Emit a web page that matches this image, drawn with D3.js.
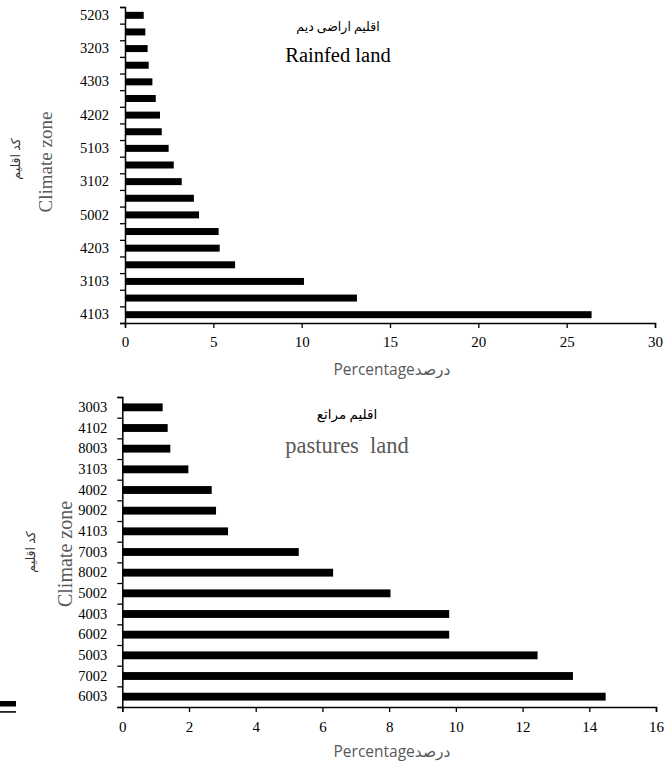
<!DOCTYPE html>
<html>
<head>
<meta charset="utf-8">
<script src="https://cdn.jsdelivr.net/npm/d3@7"></script>
<style>
  body { margin: 0; background: #fff; }
  svg text { font-family: 'Liberation Serif', 'DejaVu Sans', serif; }
</style>
</head>
<body>
<script>
// top chart: rainfed land, bars listed top to bottom, every other zone code is printed
const rainfedZones = ["5203", "", "3203", "", "4303", "", "4202", "", "5103", "",
                      "3102", "", "5002", "", "4203", "", "3103", "", "4103"];
const rainfedValues = [1.06, 1.15, 1.28, 1.34, 1.55, 1.74, 1.98, 2.08, 2.47, 2.76,
                       3.21, 3.90, 4.19, 5.30, 5.36, 6.23, 10.13, 13.13, 26.41];
const rainfedTicks = [0, 5, 10, 15, 20, 25, 30];

// bottom chart: pastures land
const pastureZones = ["3003", "4102", "8003", "3103", "4002", "9002", "4103", "7003",
                      "8002", "5002", "4003", "6002", "5003", "7002", "6003"];
const pastureValues = [1.21, 1.36, 1.44, 1.98, 2.68, 2.81, 3.17, 5.29,
                       6.32, 8.04, 9.80, 9.80, 12.45, 13.51, 14.49];
const pastureTicks = [0, 2, 4, 6, 8, 10, 12, 14, 16];

const svg = d3.select("body").append("svg")
    .attr("width", 672)
    .attr("height", 767);

function drawChart(cfg) {
    const n = cfg.values.length;
    const idx = d3.range(n);

    const x = d3.scaleLinear()
        .domain([0, d3.max(cfg.ticks)])
        .range([cfg.left, cfg.right]);

    const y = d3.scaleBand()
        .domain(idx)
        .range([cfg.top, cfg.bottom])
        .paddingInner(cfg.pad)
        .paddingOuter(cfg.pad / 2);

    // boundaries between categories, for the small tick marks
    const yEdge = d3.scaleLinear().domain([0, n]).range([cfg.top, cfg.bottom]);

    const g = svg.append("g");

    g.selectAll("rect.bar")
        .data(cfg.values)
        .join("rect")
        .attr("class", "bar")
        .attr("x", x(0))
        .attr("y", (d, i) => y(i))
        .attr("width", d => x(d) - x(0))
        .attr("height", y.bandwidth())
        .attr("fill", "#000");

    // y tick marks
    g.append("g")
        .attr("transform", `translate(${x(0)},0)`)
        .call(d3.axisLeft(yEdge).tickValues(d3.range(n + 1)).tickSize(5).tickFormat(""))
        .call(a => a.select(".domain").attr("stroke-width", 1.5))
        .call(a => a.selectAll(".tick line").attr("stroke-width", 1.3));

    // y labels
    g.append("g")
        .attr("transform", `translate(${x(0)},0)`)
        .call(d3.axisLeft(y).tickSize(0).tickPadding(cfg.labelPad).tickFormat(i => cfg.zones[i]))
        .call(a => a.select(".domain").remove())
        .call(a => a.selectAll("text")
            .attr("font-family", "'Liberation Serif', serif")
            .attr("font-size", 14.5)
            .attr("fill", "#000"));

    // x axis
    g.append("g")
        .attr("transform", `translate(0,${cfg.bottom})`)
        .call(d3.axisBottom(x).tickValues(cfg.ticks).tickSize(5).tickPadding(cfg.xPad).tickSizeOuter(5))
        .call(a => a.select(".domain").attr("stroke-width", 1.5))
        .call(a => a.selectAll(".tick line").attr("stroke-width", 1.3))
        .call(a => a.selectAll("text")
            .attr("font-family", "'Liberation Serif', serif")
            .attr("font-size", 15)
            .attr("fill", "#000"));

    // x axis title
    g.append("text")
        .attr("x", cfg.xTitle[0])
        .attr("y", cfg.xTitle[1])
        .attr("text-anchor", "middle")
        .style("font-family", "'Open Sans', 'DejaVu Sans', sans-serif")
        .attr("font-size", 15.5)
        .attr("fill", "#595959")
        .text("Percentageدرصد");

    // y axis titles
    g.append("text")
        .attr("transform", `translate(${cfg.yTitle[0]},${cfg.yTitle[1]}) rotate(-90)`)
        .attr("text-anchor", "middle")
        .attr("font-size", cfg.yTitleSize)
        .attr("fill", "#595959")
        .text("Climate zone");

    g.append("text")
        .attr("transform", `translate(${cfg.yTitleFa[0]},${cfg.yTitleFa[1]}) rotate(-90)`)
        .attr("text-anchor", "middle")
        .attr("font-size", 12.5)
        .attr("fill", "#333")
        .text("کد اقلیم");

    // chart titles
    g.append("text")
        .attr("x", cfg.titleFa[0])
        .attr("y", cfg.titleFa[1])
        .attr("text-anchor", "middle")
        .attr("font-size", cfg.titleFaSize)
        .attr("fill", "#000")
        .text(cfg.titleFaText);

    g.append("text")
        .attr("x", cfg.title[0])
        .attr("y", cfg.title[1])
        .attr("text-anchor", "middle")
        .attr("font-size", cfg.titleSize)
        .attr("fill", cfg.titleColor)
        .style("white-space", "pre")
        .text(cfg.titleText);
}

drawChart({
    zones: rainfedZones, values: rainfedValues, ticks: rainfedTicks,
    left: 125, right: 655, top: 7, bottom: 323, pad: 0.58,
    labelPad: 16, xPad: 8,
    xTitle: [392, 375], yTitle: [52, 162], yTitleSize: 19, yTitleFa: [20, 159],
    titleFa: [338, 31], titleFaText: "اقلیم اراضی دیم", titleFaSize: 12.5,
    title: [338, 62], titleText: "Rainfed land", titleSize: 20.5, titleColor: "#000"
});

drawChart({
    zones: pastureZones, values: pastureValues, ticks: pastureTicks,
    left: 122.3, right: 656, top: 397, bottom: 707, pad: 0.62,
    labelPad: 15, xPad: 9,
    xTitle: [392, 757], yTitle: [72, 554], yTitleSize: 20, yTitleFa: [35, 552],
    titleFa: [347, 419], titleFaText: "اقلیم مراتع", titleFaSize: 13.5,
    title: [347, 453], titleText: "pastures  land", titleSize: 22.5, titleColor: "#595959"
});

// clipped fragment at the lower left edge
svg.append("rect").attr("x", 0).attr("y", 701).attr("width", 16).attr("height", 5.5).attr("fill", "#000");
svg.append("rect").attr("x", 0).attr("y", 711).attr("width", 16).attr("height", 1.8).attr("fill", "#222");
</script>
</body>
</html>
